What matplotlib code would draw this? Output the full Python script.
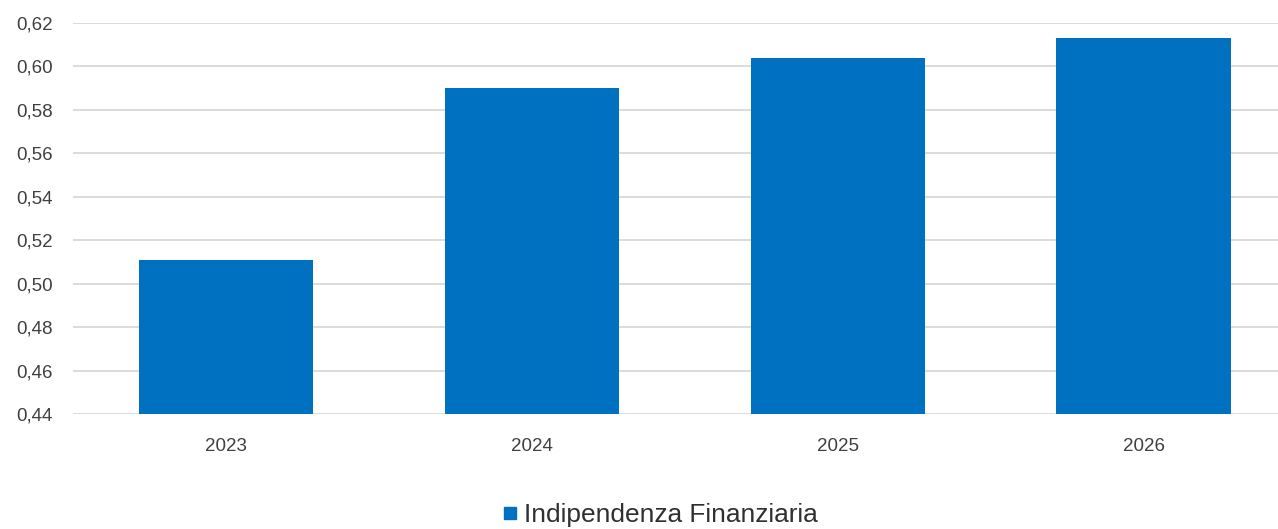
import matplotlib

matplotlib.use("Agg")
import matplotlib.pyplot as plt
from matplotlib.lines import Line2D
from matplotlib.ticker import FuncFormatter, MultipleLocator

years = ["2023", "2024", "2025", "2026"]
values = [0.511, 0.590, 0.604, 0.613]
series_name = "Indipendenza Finanziaria"

BAR_COLOR = "#0070C0"
GRID_COLOR = "#D9D9D9"
TEXT_COLOR = "#404040"

plt.rcParams["font.family"] = ["Liberation Sans", "DejaVu Sans"]

fig = plt.figure(figsize=(12.78, 5.29), dpi=100)
# plot area runs slightly past the right edge, as in the source crop
ax = fig.add_axes([0.0575, 0.2174, 0.9569, 0.7391])

x = range(len(years))
ax.bar(x, values, width=0.57, color=BAR_COLOR, zorder=3)

ax.set_xlim(-0.5, len(years) - 0.5)
ax.set_ylim(0.44, 0.62)
ax.yaxis.set_major_locator(MultipleLocator(0.02))
ax.yaxis.set_major_formatter(FuncFormatter(lambda v, _: f"{v:.2f}".replace(".", ",")))
ax.set_xticks(list(x))
ax.set_xticklabels(years)

ax.grid(axis="y", color=GRID_COLOR, linewidth=1.3, zorder=0)
ax.set_axisbelow(True)
for s in ax.spines.values():
    s.set_visible(False)
ax.tick_params(axis="both", length=0, labelsize=13.5, labelcolor=TEXT_COLOR)
ax.tick_params(axis="y", pad=15)
ax.tick_params(axis="x", pad=17)

handle = Line2D([], [], marker="s", linestyle="", color=BAR_COLOR, markersize=8)
fig.legend(
    [handle],
    [series_name],
    loc="center",
    bbox_to_anchor=(0.5165, 0.026),
    frameon=False,
    fontsize=18.9,
    labelcolor="#303030",
    handlelength=0.6,
    handletextpad=0.25,
    borderaxespad=0,
)

fig.savefig("out.png", dpi=100)
